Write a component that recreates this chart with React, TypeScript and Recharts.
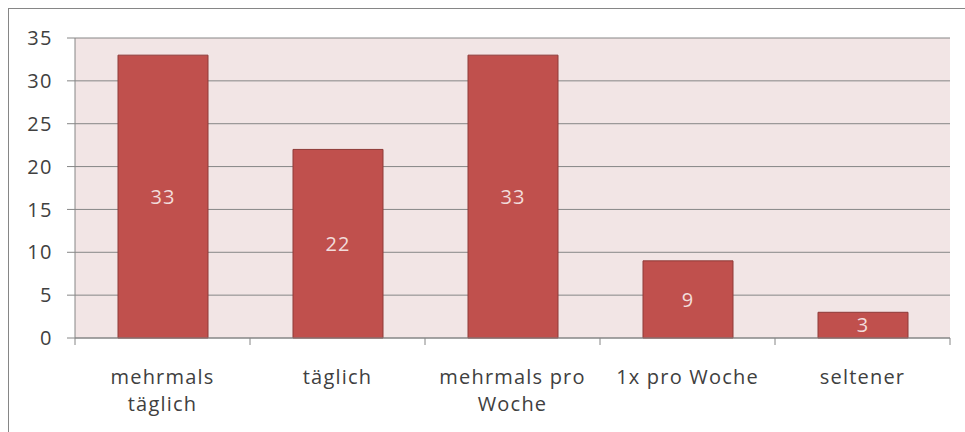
import React from "react";
import { BarChart, Bar, XAxis, YAxis, CartesianGrid, LabelList } from "recharts";

const categories = ["mehrmals täglich", "täglich", "mehrmals pro Woche", "1x pro Woche", "seltener"];
const categoryLines = [["mehrmals", "täglich"], ["täglich"], ["mehrmals pro", "Woche"], ["1x pro Woche"], ["seltener"]];
const values = [33, 22, 33, 9, 3];
const yTicks = [0, 5, 10, 15, 20, 25, 30, 35];

const data = categories.map((c, i) => ({ name: c, value: values[i] }));

const CHART_W = 956;
const CHART_H = 423;
const MARGIN = { top: 29, right: 15, bottom: 14, left: 0 };
const Y_W = 66;
const PLOT_W = CHART_W - MARGIN.left - MARGIN.right - Y_W;
const HALF_BAND = PLOT_W / categories.length / 2;

const FONT = "'Open Sans', sans-serif";
const TEXT = "#404040";
const LINE = "#868686";

const XTick = (props: any) => {
  const { x, y, index } = props;
  const lines = categoryLines[index] || [];
  const last = index === categories.length - 1;
  return (
    <g>
      <line x1={x - HALF_BAND} y1={y} x2={x - HALF_BAND} y2={y + 7} stroke={LINE} />
      {last && <line x1={x + HALF_BAND} y1={y} x2={x + HALF_BAND} y2={y + 7} stroke={LINE} />}
      <text x={x} y={y} textAnchor="middle" fill={TEXT} fontFamily={FONT} fontSize={20} letterSpacing={1.2}>
        {lines.map((l, i) => (
          <tspan key={i} x={x} dy={i === 0 ? 46 : 27}>{l}</tspan>
        ))}
      </text>
    </g>
  );
};

export default function App() {
  return (
    <div
      style={{
        position: "fixed",
        left: 8,
        top: 8,
        width: 957,
        height: 424,
        borderLeft: `1px solid ${LINE}`,
        borderTop: `1px solid ${LINE}`,
        background: "#fff",
        overflow: "hidden",
      }}
    >
      <BarChart width={CHART_W} height={CHART_H} data={data} margin={MARGIN} barSize={90}>
        <CartesianGrid vertical={false} stroke={LINE} fill="#F2E5E5" fillOpacity={1} />
        <XAxis
          dataKey="name"
          interval={0}
          tickSize={0}
          tickMargin={0}
          axisLine={{ stroke: LINE }}
          tickLine={false}
          tick={<XTick />}
          height={80}
        />
        <YAxis
          width={Y_W}
          domain={[0, 35]}
          ticks={yTicks}
          interval={0}
          tickSize={8}
          tickMargin={14}
          axisLine={{ stroke: LINE }}
          tickLine={{ stroke: LINE }}
          tick={{ fill: TEXT, fontFamily: FONT, fontSize: 20, letterSpacing: 1.5 }}
        />
        <Bar dataKey="value" fill="#C0504D" stroke="#8E3A38" strokeWidth={1} isAnimationActive={false}>
          <LabelList
            dataKey="value"
            position="center"
            fill="#F2DCDB"
            style={{ fontFamily: FONT, fontSize: 20, letterSpacing: 1 }}
          />
        </Bar>
      </BarChart>
    </div>
  );
}
